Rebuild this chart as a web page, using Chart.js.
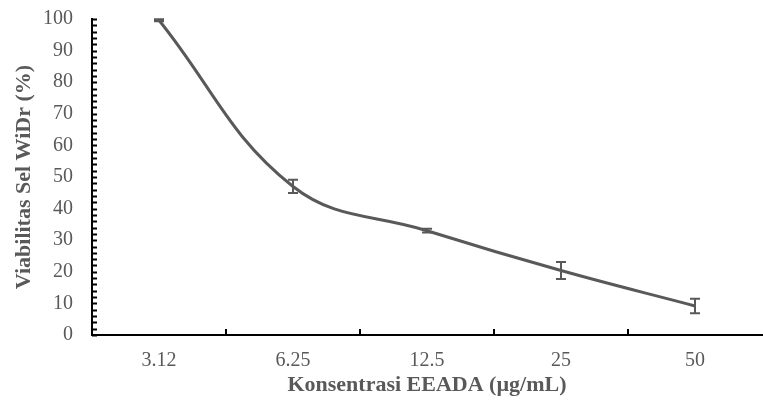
<!DOCTYPE html>
<html>
<head>
<meta charset="utf-8">
<style>
  html, body { margin: 0; padding: 0; background: #fff; }
  #wrap { width: 763px; height: 403px; }
</style>
<script src="https://cdn.jsdelivr.net/npm/chart.js@4/dist/chart.umd.min.js"></script>
</head>
<body>
<div id="wrap"><canvas id="viabilityChart" width="763" height="403"></canvas></div>
<script>
const concentrations = ['3.12', '6.25', '12.5', '25', '50'];
const viability = [99.6, 47.0, 33.0, 20.4, 9.2];
const viabilitySd = [0.3, 2.1, 0.6, 2.7, 2.3];

const grey = '#595959';
const serif = '"Liberation Serif", "Times New Roman", serif';

// Inward tick marks on both axes plus the SD error bars.
const decorations = {
    id: 'decorations',
    afterDatasetsDraw(chart, args, opts) {
        const { ctx, scales: { x, y } } = chart;
        const axisX = x.left, axisY = y.bottom;
        ctx.save();
        ctx.strokeStyle = '#000';
        ctx.lineWidth = 2;
        ctx.beginPath();
        for (let v = y.min; v <= y.max; v += opts.minorStep) {
            const py = Math.round(y.getPixelForValue(v)) + 0.5;
            ctx.moveTo(axisX, py);
            ctx.lineTo(axisX + opts.tickLen, py);
        }
        for (let i = 0; i < concentrations.length - 1; i++) {
            const px = Math.round((x.getPixelForValue(i) + x.getPixelForValue(i + 1)) / 2);
            ctx.moveTo(px, axisY);
            ctx.lineTo(px, axisY - opts.tickLen - 1);
        }
        ctx.stroke();

        ctx.strokeStyle = grey;
        ctx.lineWidth = 2;
        ctx.beginPath();
        viability.forEach((v, i) => {
            const px = Math.round(x.getPixelForValue(i));
            const top = y.getPixelForValue(v + viabilitySd[i]);
            const bot = y.getPixelForValue(v - viabilitySd[i]);
            ctx.moveTo(px, top); ctx.lineTo(px, bot);
            ctx.moveTo(px - opts.cap, top); ctx.lineTo(px + opts.cap, top);
            ctx.moveTo(px - opts.cap, bot); ctx.lineTo(px + opts.cap, bot);
        });
        ctx.stroke();
        ctx.restore();
    },
};

new Chart(document.getElementById('viabilityChart'), {
    type: 'line',
    data: {
        labels: concentrations,
        datasets: [{
            data: viability,
            borderColor: grey,
            borderWidth: 3,
            pointRadius: 0,
            tension: 0.4,
            clip: 10,
        }],
    },
    options: {
        responsive: false,
        animation: false,
        layout: { padding: { top: 19, right: 1, left: 0, bottom: 0 } },
        plugins: {
            legend: { display: false },
            tooltip: { enabled: false },
            decorations: { minorStep: 2, tickLen: 5, cap: 5 },
        },
        scales: {
            x: {
                offset: true,
                afterFit(scale) {
                    scale.height = 68;
                    scale.paddingLeft = 0;
                    scale.paddingRight = 0;
                },
                grid: { display: false, drawTicks: false },
                border: { display: true, color: '#000', width: 2 },
                ticks: { color: grey, font: { family: serif, size: 20 }, padding: 14 },
                title: {
                    display: true,
                    text: 'Konsentrasi EEADA (µg/mL)',
                    color: grey,
                    font: { family: serif, size: 22, weight: 'bold' },
                    padding: { top: 0, bottom: 4 },
                },
            },
            y: {
                min: 0,
                max: 100,
                afterFit(scale) {
                    scale.width = 92;
                    scale.paddingTop = 0;
                    scale.paddingBottom = 0;
                },
                grid: { display: false, drawTicks: false },
                border: { display: true, color: '#000', width: 2 },
                ticks: { stepSize: 10, color: grey, font: { family: serif, size: 20 }, padding: 19 },
                title: {
                    display: true,
                    text: 'Viabilitas Sel WiDr (%)',
                    color: grey,
                    font: { family: serif, size: 22, weight: 'bold' },
                    padding: { top: 11, bottom: 0 },
                },
            },
        },
    },
    plugins: [decorations],
});
</script>
</body>
</html>
